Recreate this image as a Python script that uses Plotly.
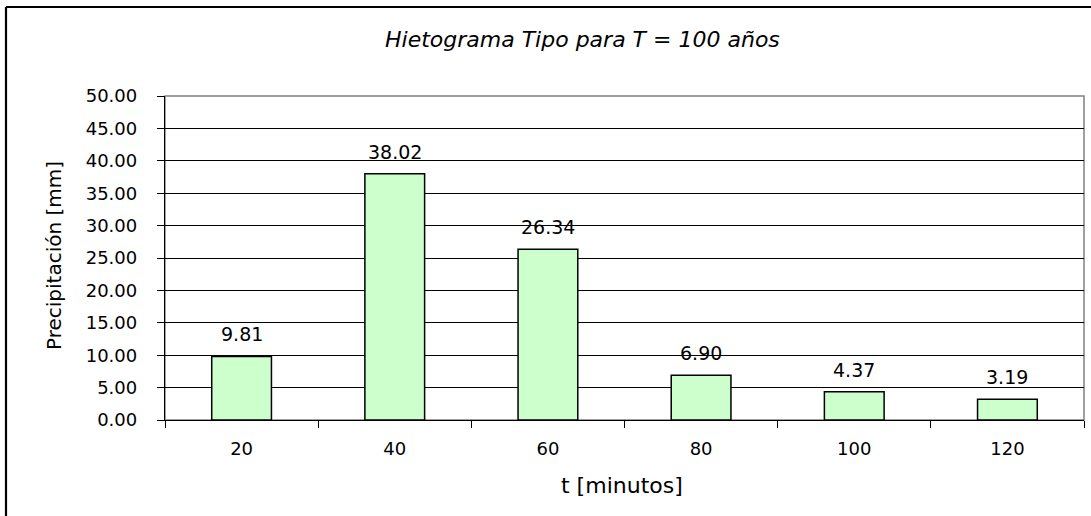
import plotly.graph_objects as go

categories = ["20", "40", "60", "80", "100", "120"]
values = [9.81, 38.02, 26.34, 6.90, 4.37, 3.19]
labels = ["9.81", "38.02", "26.34", "6.90", "4.37", "3.19"]
y_ticks = [0, 5, 10, 15, 20, 25, 30, 35, 40, 45, 50]
y_tick_text = ["%.2f" % v for v in y_ticks]

FONT = "DejaVu Sans, Liberation Sans, Arial, sans-serif"

L, R, T, B = 165, 1084, 96, 420
W, H = 1091, 516
pw, ph = R - L, B - T

def px(x):
    return (x - L) / pw

def py(y):
    return (B - y) / ph

fig = go.Figure()
fig.add_trace(go.Bar(
    x=categories, y=values, width=0.39,
    marker=dict(color="#CCFFCC", line=dict(color="black", width=1.5)),
    hoverinfo="x+y",
))

annotations = []
for i, (v, t) in enumerate(zip(values, labels)):
    annotations.append(dict(x=i, y=v, xref="x", yref="y", text=t, showarrow=False,
                            yanchor="bottom", yshift=9,
                            font=dict(family=FONT, size=19, color="black")))
annotations.append(dict(x=px(582), y=py(40), xref="paper", yref="paper",
                        text="<i>Hietograma Tipo para T = 100 años</i>", showarrow=False,
                        xanchor="center", yanchor="middle",
                        font=dict(family=FONT, size=22, color="black")))
annotations.append(dict(x=px(622), y=py(485), xref="paper", yref="paper",
                        text="t [minutos]", showarrow=False,
                        xanchor="center", yanchor="middle",
                        font=dict(family=FONT, size=22, color="black")))
annotations.append(dict(x=px(54), y=py(256), xref="paper", yref="paper",
                        text="Precipitación [mm]", showarrow=False, textangle=-90,
                        xanchor="center", yanchor="middle",
                        font=dict(family=FONT, size=20, color="black")))

shapes = [
    dict(type="rect", xref="paper", yref="paper", x0=0, x1=1, y0=0, y1=1,
         line=dict(color="#808080", width=1.5), layer="below"),
    dict(type="line", xref="paper", yref="paper",
         x0=px(6), x1=px(1091), y0=py(7), y1=py(7),
         line=dict(color="black", width=2.2)),
    dict(type="line", xref="paper", yref="paper",
         x0=px(6), x1=px(6), y0=py(7), y1=py(516),
         line=dict(color="black", width=2.2)),
]

fig.update_layout(
    width=W, height=H,
    margin=dict(l=L, r=W - R, t=T, b=H - B, autoexpand=False),
    paper_bgcolor="white", plot_bgcolor="white",
    showlegend=False,
    font=dict(family=FONT, size=18, color="black"),
    annotations=annotations,
    shapes=shapes,
)
fig.update_xaxes(
    type="category", range=[-0.5, len(categories) - 0.5],
    tickson="boundaries", ticks="outside", ticklen=7,
    tickcolor="black", tickwidth=1, tickangle=0,
    showline=True, linecolor="black", linewidth=1.3,
    showgrid=False, ticklabelstandoff=12,
    tickfont=dict(family=FONT, size=18, color="black"),
)
fig.update_yaxes(
    range=[0, 50], tickvals=y_ticks, ticktext=y_tick_text,
    ticks="outside", ticklen=7, tickcolor="black", tickwidth=1,
    showline=True, linecolor="black", linewidth=1.3,
    showgrid=True, gridcolor="black", gridwidth=1,
    zeroline=False, ticklabelstandoff=16,
    tickfont=dict(family=FONT, size=18, color="black"),
)

fig.write_html("out.html", config={"displayModeBar": False},
               post_script="document.body.style.margin='0';")
